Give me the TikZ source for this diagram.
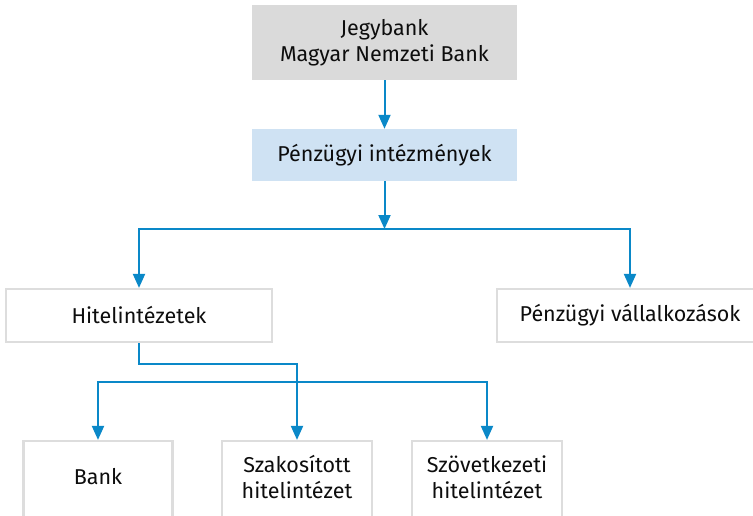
\documentclass[tikz,border=0pt]{standalone}
\usepackage{fontspec}
\setmainfont{Fira Sans}
\usetikzlibrary{arrows.meta}
\definecolor{flowblue}{HTML}{0A88C8}
\definecolor{boxgray}{HTML}{DADADA}
\definecolor{boxblue}{HTML}{CFE2F3}
\definecolor{edgegray}{HTML}{DDDDDD}
\tikzset{
	box/.style={rectangle,inner sep=0pt,align=center,font=\fontsize{21.5}{26}\selectfont,text=black!95},
	plainbox/.style={box,draw=edgegray,line width=2.2pt,fill=white},
	flow/.style={draw=flowblue,line width=2pt},
	arrow/.style={flow,-{Triangle[width=12pt,length=14pt]}}
}
\begin{document}
\begin{tikzpicture}[x=1pt,y=-1pt]
		\useasboundingbox (0,0) rectangle (753,515);
		\clip (0,0) rectangle (753,515);
		\node[box,fill=boxgray,minimum width=265,minimum height=75] (jegybank) at (384.5,42.5) {Jegybank\\Magyar Nemzeti Bank};
		\node[box,fill=boxblue,minimum width=265,minimum height=52] (intezmeny) at (384.5,155) {Pénzügyi intézmények};
		\node[plainbox,minimum width=266,minimum height=53] (hitel) at (139,315.5) {Hitelintézetek};
		\node[plainbox,minimum width=266,minimum height=53] (vallalk) at (630,315.5) {Pénzügyi vállalkozások};
		\node[plainbox,minimum width=149,minimum height=84,label={[box,yshift=6]center:Bank}] (bank) at (98,483) {};
		\node[plainbox,minimum width=150,minimum height=84,label={[box,yshift=6]center:Szakosított\\hitelintézet}] (szakos) at (297,483) {};
		\node[plainbox,minimum width=150,minimum height=84,label={[box,yshift=6]center:Szövetkezeti\\hitelintézet}] (szovet) at (487,483) {};
		\coordinate (split) at (384.5,229);
		\coordinate (fork) at (297,382);
		\draw[arrow] (jegybank) -- (intezmeny);
		\draw[arrow] (intezmeny) -- (split);
		\draw[arrow] (split) -| (hitel.north);
		\draw[arrow] (split) -| (vallalk.north);
		\draw[arrow] (hitel.south) -- ++(0,21) -| (szakos.north);
		\draw[arrow] (fork) -| (bank.north);
		\draw[arrow] (fork) -| (szovet.north);
\end{tikzpicture}
\end{document}
